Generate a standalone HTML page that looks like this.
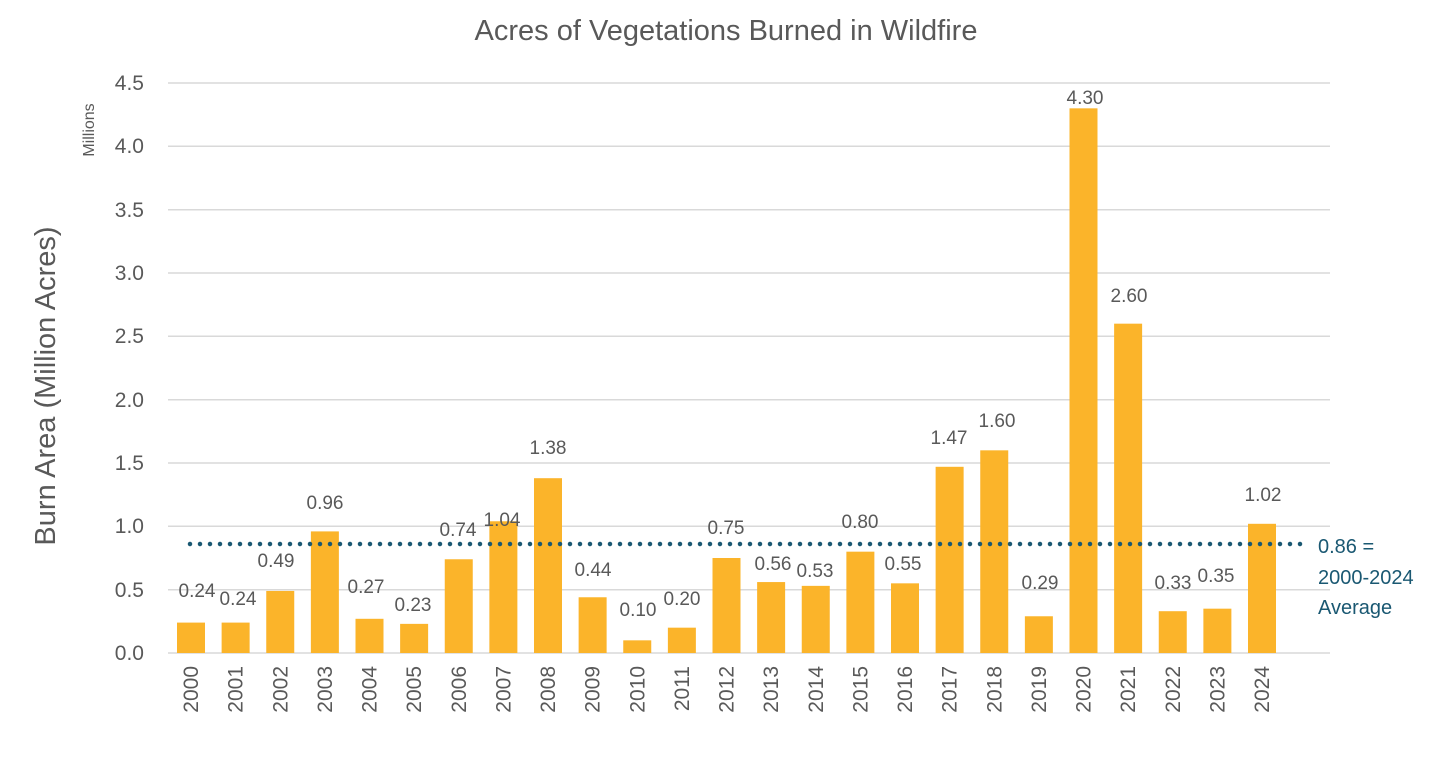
<!DOCTYPE html>
<html><head><meta charset="utf-8"><style>
html,body{margin:0;padding:0;background:#fff;}
svg{display:block;font-family:"Liberation Sans",sans-serif;}
</style></head><body>
<svg width="1452" height="762" viewBox="0 0 1452 762" xmlns="http://www.w3.org/2000/svg">
<text x="726" y="40" text-anchor="middle" font-size="29" fill="#595959">Acres of Vegetations Burned in Wildfire</text>
<g stroke="#d9d9d9" stroke-width="1.5">
<line x1="168" x2="1330" y1="83" y2="83"/><line x1="168" x2="1330" y1="146.3" y2="146.3"/>
<line x1="168" x2="1330" y1="209.7" y2="209.7"/><line x1="168" x2="1330" y1="273" y2="273"/>
<line x1="168" x2="1330" y1="336.3" y2="336.3"/><line x1="168" x2="1330" y1="399.7" y2="399.7"/>
<line x1="168" x2="1330" y1="463" y2="463"/><line x1="168" x2="1330" y1="526.3" y2="526.3"/>
<line x1="168" x2="1330" y1="589.7" y2="589.7"/><line x1="168" x2="1330" y1="653" y2="653"/>
</g>
<g font-size="21" fill="#595959" text-anchor="end">
<text x="144" y="90">4.5</text><text x="144" y="153">4.0</text><text x="144" y="217">3.5</text>
<text x="144" y="280">3.0</text><text x="144" y="343">2.5</text><text x="144" y="407">2.0</text>
<text x="144" y="470">1.5</text><text x="144" y="533">1.0</text><text x="144" y="597">0.5</text>
<text x="144" y="660">0.0</text>
</g>
<text transform="translate(55,386) rotate(-90)" text-anchor="middle" font-size="29" fill="#595959">Burn Area (Million Acres)</text>
<text transform="translate(94,130) rotate(-90)" text-anchor="middle" font-size="16" fill="#595959">Millions</text>
<g id="bars" fill="#fbb42a"></g>
<g id="years" font-size="21" fill="#595959"></g>
<g id="labels" font-size="19" fill="#595959" text-anchor="middle"></g>
<line x1="190" x2="1305" y1="544" y2="544" stroke="#1a5872" stroke-width="4.5" stroke-linecap="round" stroke-dasharray="0 10"/>
<g font-size="20" fill="#1a5872">
<text x="1318" y="553">0.86 =</text><text x="1318" y="584">2000-2024</text><text x="1318" y="614">Average</text>
</g>
<script>
var v=[0.24,0.24,0.49,0.96,0.27,0.23,0.74,1.04,1.38,0.44,0.10,0.20,0.75,0.56,0.53,0.80,0.55,1.47,1.60,0.29,4.30,2.60,0.33,0.35,1.02];
var lp=[[197,590],[238,598],[276,560],[325,502],[366,586],[413,604],[458,529],[502,519],[548,447],[593,569],[638,609],[682,598],[726,527],[773,563],[815,570],[860,521],[903,563],[949,437],[997,420],[1040,582],[1085,97],[1129,295],[1173,582],[1216,575],[1263,494]];
var ns="http://www.w3.org/2000/svg",b=document.getElementById('bars'),y=document.getElementById('years'),l=document.getElementById('labels');
for(var i=0;i<25;i++){var cx=191+i*44.625,h=v[i]*126.667;
var r=document.createElementNS(ns,'rect');r.setAttribute('x',cx-14);r.setAttribute('y',653-h);r.setAttribute('width',28);r.setAttribute('height',h);b.appendChild(r);
var t=document.createElementNS(ns,'text');t.setAttribute('transform','translate('+(cx+7)+',666) rotate(-90)');t.setAttribute('text-anchor','end');t.textContent=2000+i;y.appendChild(t);
var q=document.createElementNS(ns,'text');q.setAttribute('x',lp[i][0]);q.setAttribute('y',lp[i][1]+7);q.textContent=v[i].toFixed(2);l.appendChild(q);}
</script>
</svg>
</body></html>
